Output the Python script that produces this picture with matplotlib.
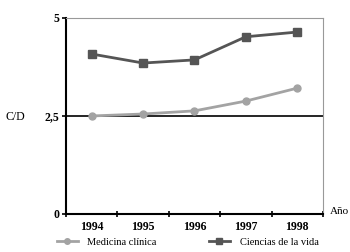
import matplotlib
matplotlib.use("Agg")
import matplotlib.pyplot as plt
from matplotlib.lines import Line2D

years = ["1994", "1995", "1996", "1997", "1998"]
medicina = [2.50, 2.55, 2.63, 2.88, 3.21]
ciencias = [4.08, 3.85, 3.93, 4.52, 4.64]
yticks = [0, 2.5, 5]
yticklabels = ["0", "2,5", "5"]

plt.rcParams['font.family'] = ['Liberation Serif', 'DejaVu Serif']

fig = plt.figure(figsize=(3.5, 2.52), dpi=100)
ax = fig.add_axes([0.1886, 0.1508, 0.734, 0.778])

xs = list(range(len(years)))
c_med = '#a3a3a3'
c_cie = '#555555'
ax.axhline(2.5, color='black', lw=1.2, zorder=1)
ax.plot(xs, medicina, color=c_med, lw=2, marker='o', ms=5, zorder=3)
ax.plot(xs, ciencias, color=c_cie, lw=2, marker='s', ms=5.5, zorder=3)

ax.set_xlim(-0.5, 4.5)
ax.set_ylim(0, 5)
ax.set_yticks(yticks)
ax.set_yticklabels(yticklabels, fontsize=8.5, fontweight='bold')
ax.set_xticks([i - 0.5 for i in range(len(years) + 1)])
ax.set_xticklabels([])
ax.set_xticks(xs, minor=True)
ax.set_xticklabels(years, minor=True, fontsize=8.5, fontweight='bold')
ax.tick_params(axis='x', which='major', direction='inout', length=5, width=1.2)
ax.tick_params(axis='x', which='minor', length=0, pad=5)
ax.tick_params(axis='y', direction='out', length=3, width=1.2, pad=2)

for s in ['left', 'bottom']:
    ax.spines[s].set_linewidth(1.5)
    ax.spines[s].set_color('black')
for s in ['top', 'right']:
    ax.spines[s].set_linewidth(0.8)
    ax.spines[s].set_color('#999999')

fig.text(5/350, 1 - 117/252, "C/D", fontsize=8.5, va='center', ha='left')
fig.text(330/350, 1 - 211/252, "Año", fontsize=8, va='center', ha='left')

h1 = Line2D([], [], color=c_med, lw=2, marker='o', ms=4)
h2 = Line2D([], [], color=c_cie, lw=2, marker='s', ms=4)
fig.legend([h1, h2], ["Medicina clínica", "Ciencias de la vida"],
           loc='center', bbox_to_anchor=(0.536, 1 - 242/252), ncol=2, frameon=False,
           fontsize=7.5, handlelength=2.0, columnspacing=5.0, handletextpad=0.95,
           borderpad=0, borderaxespad=0)

fig.savefig("out.png", dpi=100)
